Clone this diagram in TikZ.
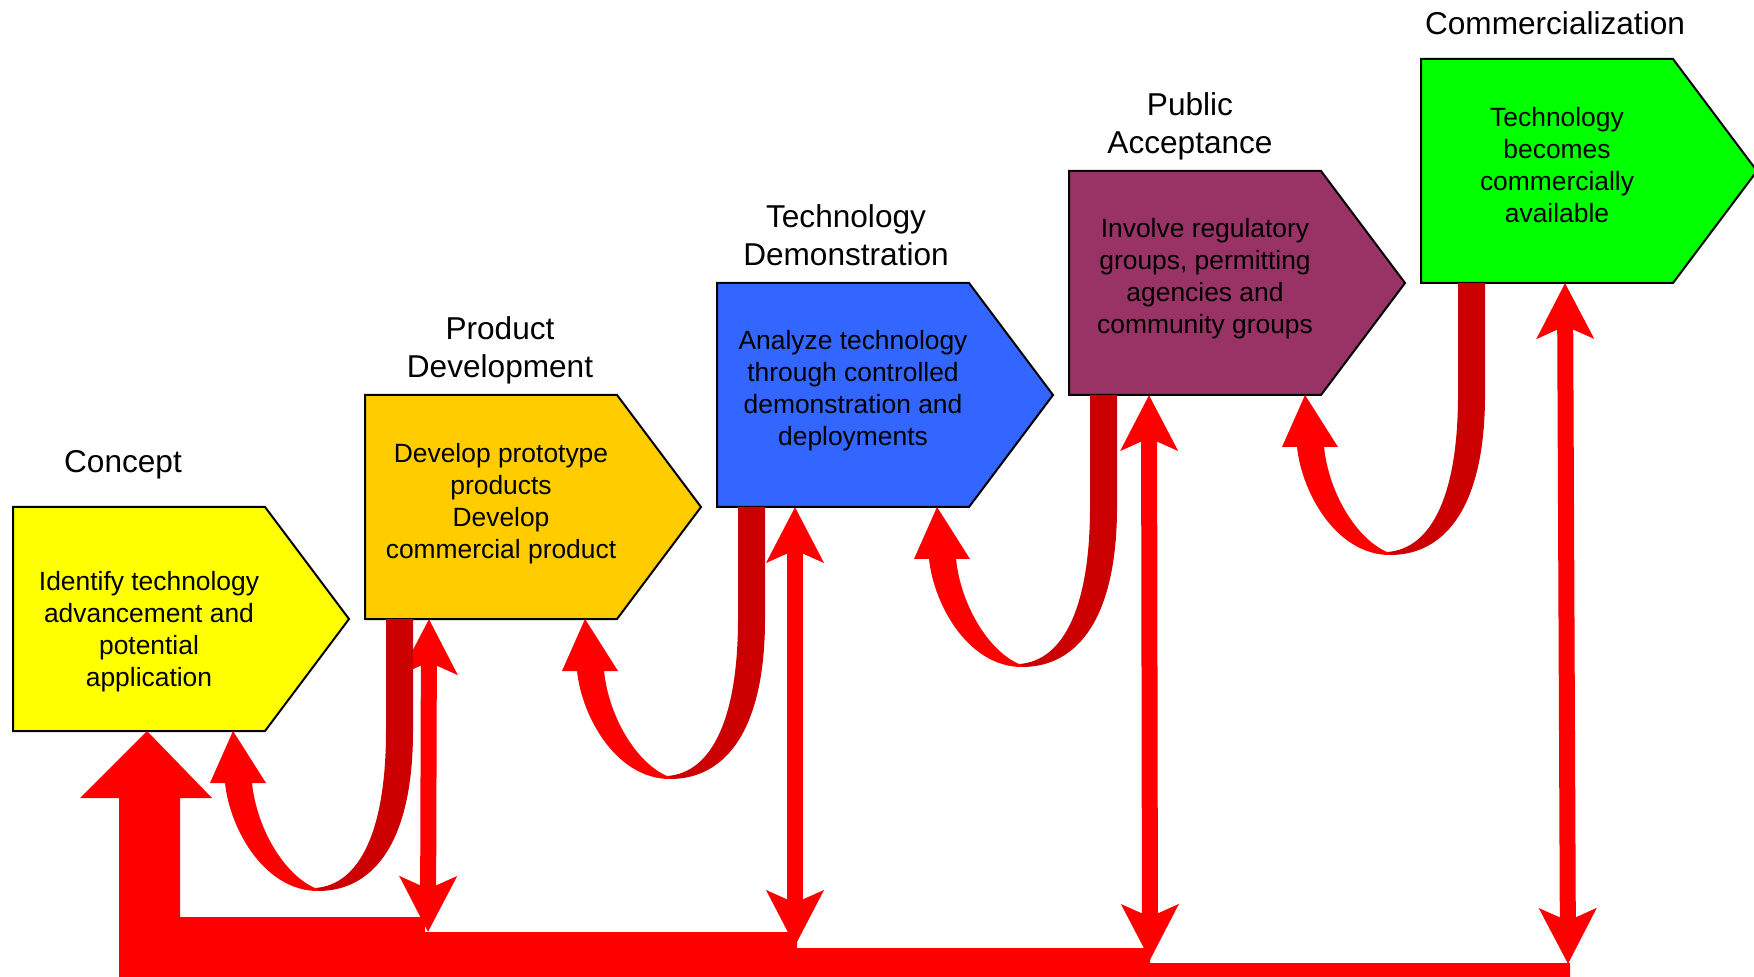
\documentclass[tikz,border=0pt]{standalone}
\usepackage{fontspec}
\setmainfont{Liberation Sans}
\usetikzlibrary{arrows.meta,calc}
\definecolor{conceptc}{HTML}{FFFF00}
\definecolor{productc}{HTML}{FFCC00}
\definecolor{democ}{HTML}{3366FF}
\definecolor{publicc}{HTML}{993366}
\definecolor{commc}{HTML}{00FF00}
\definecolor{brightred}{HTML}{FF0000}
\definecolor{darkred}{HTML}{CC0000}

\begin{document}
\begin{tikzpicture}[x=0.5pt, y=-0.5pt,
    stagebox/.style={draw=black, line width=1pt},
    boxtext/.style={align=center, inner sep=0pt, font=\fontsize{13.2pt}{16pt}\selectfont},
    stagetitle/.style={align=center, inner sep=0pt, font=\fontsize{15.8pt}{19pt}\selectfont},
    feedback/.style={line width=8pt, draw=brightred,
      arrows={Stealth[length=27.5pt,width=28pt,inset=6pt]-Stealth[length=27.5pt,width=28pt,inset=6pt]}},
    uturn/.pic={
      \fill[darkred] (21,0) -- (48,0) -- (48,112) .. controls (48,221) and (10,272) .. (-47,272)
        -- (-50,269) .. controls (-5,266) and (21,211) .. (21,112) -- cycle;
      \fill[brightred] (-47,272) .. controls (-100,272) and (-135,211) .. (-140,164)
        -- (-155,164) -- (-132,112) -- (-99,164) -- (-113,164)
        .. controls (-108,211) and (-80,256) .. (-50,269) -- cycle;
    }]
  \useasboundingbox (0,0) rectangle (1754,977);

  % stages
  \filldraw[stagebox, fill=conceptc] (13,507) coordinate (s1) -- ++(252,0) -- ++(84,112) -- ++(-84,112) -- ++(-252,0) coordinate (s1sw) -- cycle;
  \filldraw[stagebox, fill=productc] (365,395) coordinate (s2) -- ++(252,0) -- ++(84,112) -- ++(-84,112) -- ++(-252,0) coordinate (s2sw) -- cycle;
  \filldraw[stagebox, fill=democ] (717,283) coordinate (s3) -- ++(252,0) -- ++(84,112) -- ++(-84,112) -- ++(-252,0) coordinate (s3sw) -- cycle;
  \filldraw[stagebox, fill=publicc] (1069,171) coordinate (s4) -- ++(252,0) -- ++(84,112) -- ++(-84,112) -- ++(-252,0) coordinate (s4sw) -- cycle;
  \filldraw[stagebox, fill=commc] (1421,59) coordinate (s5) -- ++(252,0) -- ++(84,112) -- ++(-84,112) -- ++(-252,0) coordinate (s5sw) -- cycle;

  \node[boxtext] (t1) at (149,632) {Identify technology\\advancement and\\potential\\application};
  \node[boxtext] (t2) at (501,504) {Develop prototype\\products\\Develop\\commercial product};
  \node[boxtext] (t3) at (853,391) {Analyze technology\\through controlled\\demonstration and\\deployments};
  \node[boxtext] (t4) at (1205,279) {Involve regulatory\\groups, permitting\\agencies and\\community groups};
  \node[boxtext] (t5) at (1557,165) {Technology\\becomes\\commercially\\available};

  \node[stagetitle, anchor=base] (h1) at (123,473) {Concept};
  \node[stagetitle] (h2) at (500,350) {Product\\Development};
  \node[stagetitle] (h3) at (846,235) {Technology\\Demonstration};
  \node[stagetitle] (h4) at (1190,126) {Public\\Acceptance};
  \node[stagetitle, anchor=base] (h5) at (1555,35) {Commercialization};

  % return line
  \coordinate (d1) at (428,932);
  \coordinate (d2) at (795,946);
  \coordinate (d3) at (1150,960);
  \coordinate (d4) at (1568,964);
  \fill[brightred] (119,977) -- (119,798) -- (80,798) -- ($(s1sw)+(134,0)$) -- (212,798) -- (180,798)
    -- (180,917) -- (425,917) -- (425,932) -- (797,932) -- (797,948) -- (1150,948)
    -- (1150,963) -- (1570,963) -- (1570,977) -- cycle;

  \draw[feedback] ($(s2sw)+(64,0)$) -- (d1);
  \draw[feedback] ($(s3sw)+(78,0)$) -- (d2);
  \draw[feedback] ($(s4sw)+(80,0)$) -- (d3);
  \draw[feedback] ($(s5sw)+(144,0)$) -- (d4);

  \pic at (s2sw) {uturn};
  \pic at (s3sw) {uturn};
  \pic at (s4sw) {uturn};
  \pic at ($(s5sw)+(16,0)$) {uturn};
\end{tikzpicture}
\end{document}
